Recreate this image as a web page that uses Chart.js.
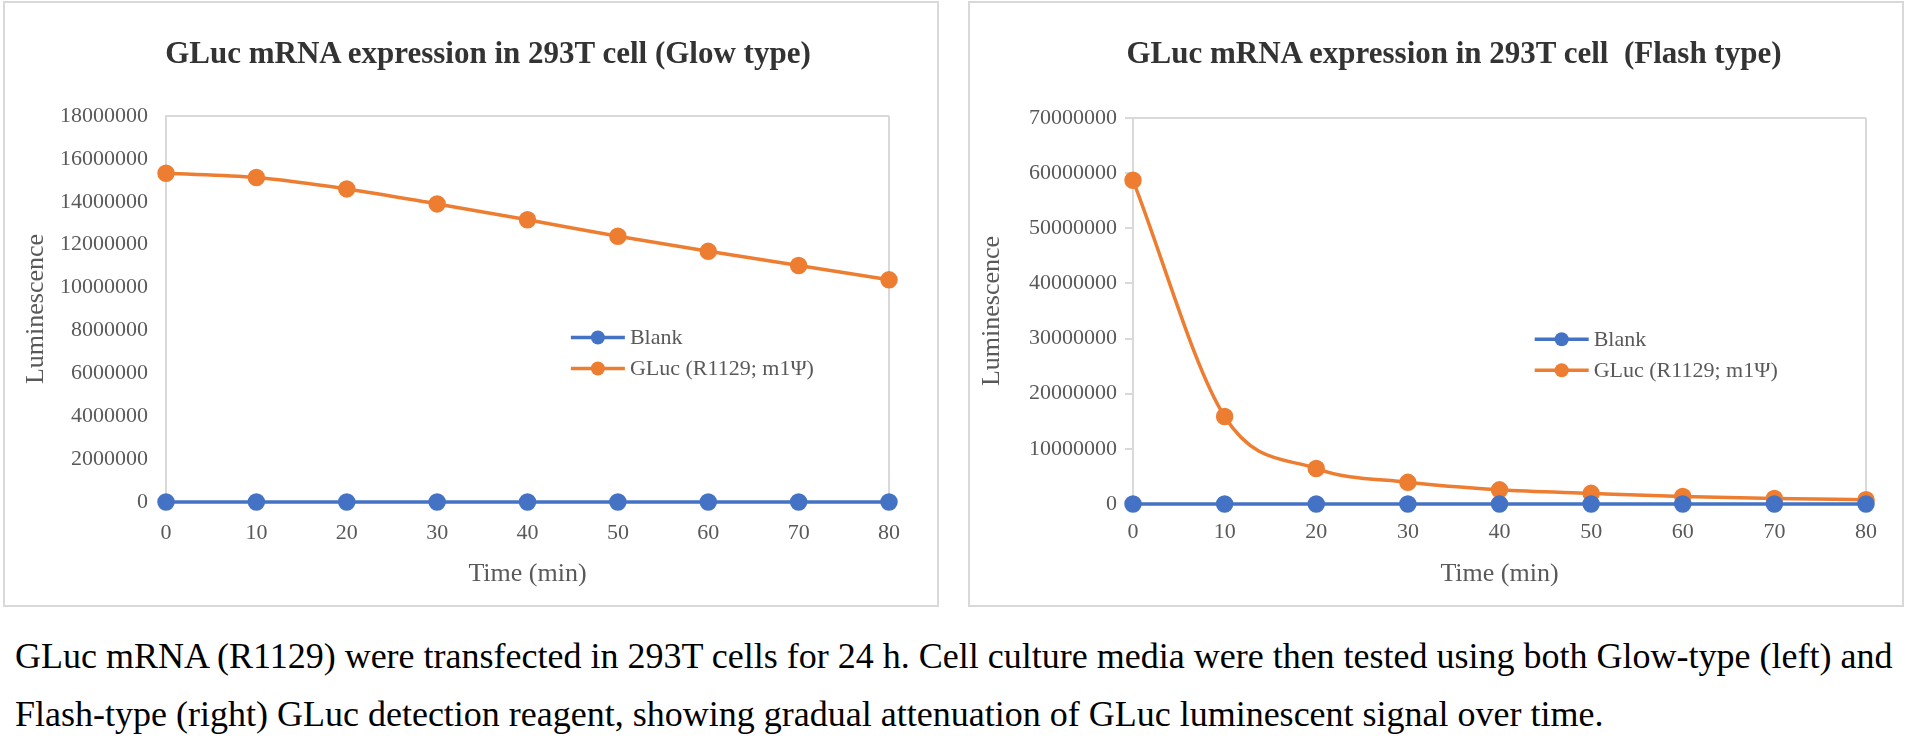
<!DOCTYPE html>
<html>
<head>
<meta charset="utf-8">
<script src="https://cdn.jsdelivr.net/npm/chart.js@4.4.0/dist/chart.umd.min.js"></script>
<style>
  body { margin:0; background:#fff; width:1931px; height:753px; overflow:hidden;
         font-family:"Liberation Serif","Times New Roman",serif; }
  .box { position:absolute; top:1px; width:932px; height:602px; border:2px solid #d9d9d9; }
  .box canvas { display:block; }
  .ttl { position:absolute; top:34px; line-height:37px; font-size:31px; font-weight:bold;
         color:#333; white-space:pre; transform:translateX(-50%); }
  .caption { position:absolute; left:15px; top:627px; font-size:36px; line-height:58px;
             color:#000; white-space:nowrap; }
</style>
</head>
<body>
<div class="box" style="left:3px"><canvas id="glow" width="932" height="602"></canvas></div>
<div class="box" style="left:968px"><canvas id="flash" width="932" height="602"></canvas></div>
<div class="ttl" style="left:488px">GLuc mRNA expression in 293T cell (Glow type)</div>
<div class="ttl" style="left:1454px">GLuc mRNA expression in 293T cell  (Flash type)</div>
<div class="caption">GLuc mRNA (R1129) were transfected in 293T cells for 24 h. Cell culture media were then tested using both Glow-type (left) and<br>Flash-type (right) GLuc detection reagent, showing gradual attenuation of GLuc luminescent signal over time.</div>

<script>
const times       = ['0', '10', '20', '30', '40', '50', '60', '70', '80'];
const seriesNames = ['Blank', 'GLuc (R1129; m1Ψ)'];
const seriesColors = ['#4472C4', '#ED7D31'];

// Glow type
const glowBlank = [2100, 2000, 2000, 1900, 1900, 1900, 1800, 1800, 1800];
const glowGluc  = [15330000, 15130000, 14600000, 13900000, 13160000, 12390000, 11690000, 11030000, 10360000];
const glowMax = 18000000, glowStep = 2000000;

// Flash type
const flashBlank = [3000, 2800, 2700, 2600, 2600, 2500, 2500, 2400, 2400];
const flashGluc  = [58700000, 15860000, 6430000, 3930000, 2570000, 1930000, 1360000, 1000000, 790000];
const flashMax = 70000000, flashStep = 10000000;

const FONT = '"Liberation Serif", "Times New Roman", serif';
const GRID = '#d9d9d9';
const TXT  = '#595959';

// legend drawn inside the plot area, like the Excel original
const insideLegend = {
  id: 'insideLegend',
  afterDatasetsDraw(chart, args, opts) {
    const { ctx, chartArea: a } = chart;
    const x0 = a.left + opts.fx * (a.right - a.left);
    let y = a.top + opts.fy * (a.bottom - a.top);
    ctx.save();
    ctx.font = '22px ' + FONT;
    ctx.textBaseline = 'middle';
    chart.data.datasets.forEach(ds => {
      ctx.strokeStyle = ds.borderColor;
      ctx.lineWidth = 3.5;
      ctx.beginPath(); ctx.moveTo(x0, y); ctx.lineTo(x0 + 54, y); ctx.stroke();
      ctx.fillStyle = ds.borderColor;
      ctx.beginPath(); ctx.arc(x0 + 27, y, 7, 0, Math.PI * 2); ctx.fill();
      ctx.fillStyle = TXT;
      ctx.fillText(ds.label, x0 + 59, y + 1);
      y += opts.rowGap;
    });
    ctx.restore();
  }
};

function makeChart(id, blank, gluc, max, step, o) {
  const last = times.length - 1;
  return new Chart(document.getElementById(id), {
    type: 'line',
    data: {
      labels: times,
      datasets: [blank, gluc].map((d, i) => ({
        label: seriesNames[i],
        data: d,
        borderColor: seriesColors[i],
        backgroundColor: seriesColors[i],
        pointBackgroundColor: seriesColors[i],
        pointBorderColor: seriesColors[i],
        borderWidth: 3.5,
        pointRadius: 7,
        pointHoverRadius: 7,
        cubicInterpolationMode: 'monotone',
        clip: false,
      })),
    },
    plugins: [insideLegend],
    options: {
      responsive: false,
      animation: false,
      layout: { padding: { top: o.padTop, right: o.padRight, left: 0, bottom: 0 } },
      plugins: {
        legend: { display: false },
        title: { display: false },
        tooltip: { enabled: false },
        insideLegend: { fx: o.legX, fy: o.legY, rowGap: 31 },
      },
      scales: {
        x: {
          afterFit: s => { s.height = o.xHeight; },
          grid: { color: c => c.index === last ? GRID : 'transparent', lineWidth: 2, drawTicks: false },
          border: { color: GRID, width: 2 },
          ticks: { color: TXT, font: { family: FONT, size: 22 }, padding: o.xPad, maxRotation: 0 },
          title: { display: true, text: 'Time (min)', color: TXT, font: { family: FONT, size: 26 },
                   padding: { top: 0, bottom: 15 } },
        },
        y: {
          min: 0, max: max,
          afterFit: s => { s.width = o.yWidth; },
          grid: {
            color: c => c.tick.value === max ? GRID : 'transparent',
            lineWidth: 2,
            drawTicks: o.tickLen > 0,
            tickLength: o.tickLen,
            tickColor: GRID,
            tickWidth: 2,
          },
          border: { color: GRID, width: 2 },
          ticks: { stepSize: step, color: TXT, font: { family: FONT, size: 22 }, padding: o.yPad,
                   callback: v => String(v) },
          title: { display: true, text: 'Luminescence', color: TXT, font: { family: FONT, size: 26 },
                   padding: { top: o.yTitlePad, bottom: 0 } },
        },
      },
    },
  });
}

makeChart('glow', glowBlank, glowGluc, glowMax, glowStep, {
  padTop: 113, padRight: 48, xHeight: 103, yWidth: 161,
  xPad: 18, yPad: 18, tickLen: 0, yTitlePad: 16, legX: 0.56, legY: 0.574,
});
makeChart('flash', flashBlank, flashGluc, flashMax, flashStep, {
  padTop: 115, padRight: 36, xHeight: 101, yWidth: 163,
  xPad: 15, yPad: 8, tickLen: 8, yTitlePad: 7, legX: 0.548, legY: 0.573,
});
</script>
</body>
</html>
